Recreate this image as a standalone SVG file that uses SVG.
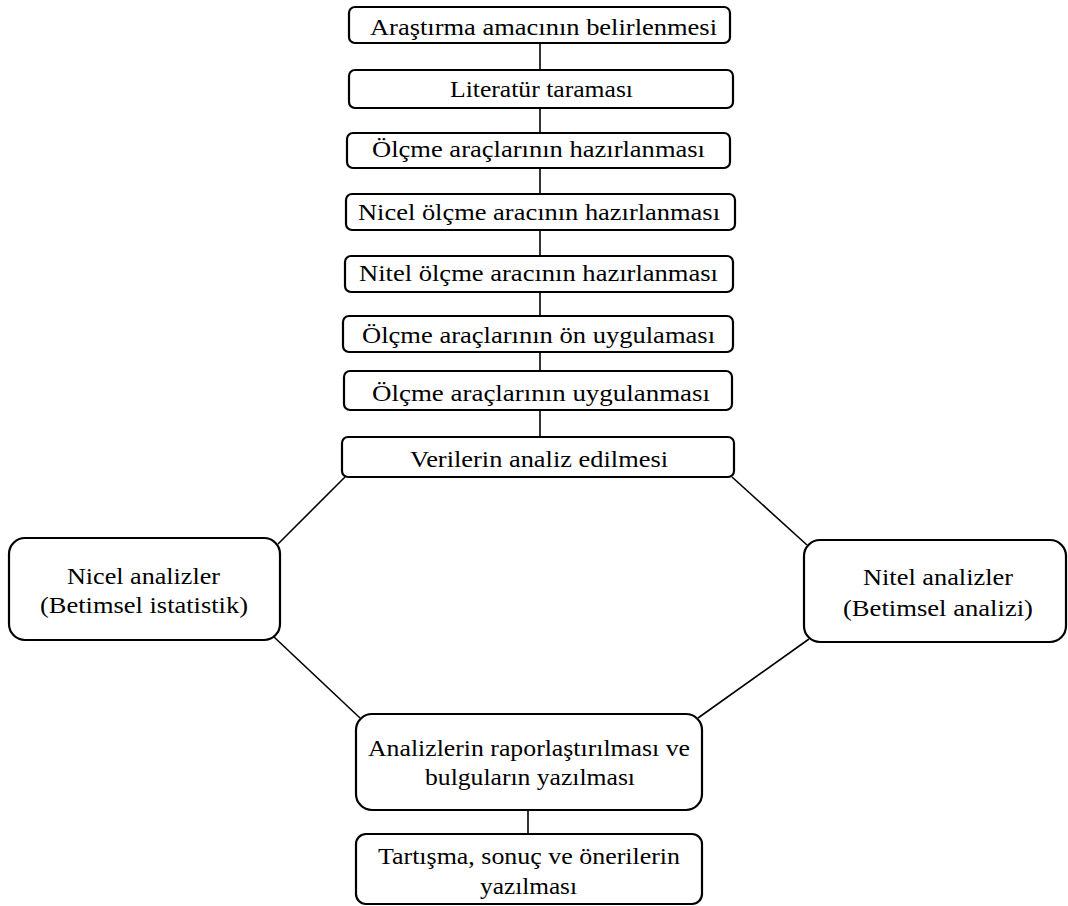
<svg xmlns="http://www.w3.org/2000/svg" width="1068" height="906" viewBox="0 0 1068 906">
  <style>
    .box { fill: #ffffff; stroke: #000000; stroke-width: 2.2; }
    .link { stroke: #000000; stroke-width: 1.6; fill: none; }
    text { font-family: "Liberation Serif", "Times New Roman", serif; font-size: 24px; fill: #000000; text-anchor: middle; }
  </style>
  <rect width="1068" height="906" fill="#ffffff"/>

  <!-- connectors -->
  <g id="connectors">
    <line class="link" x1="540" y1="43" x2="540" y2="70"/>
    <line class="link" x1="540" y1="108" x2="540" y2="133"/>
    <line class="link" x1="540" y1="168" x2="540" y2="194"/>
    <line class="link" x1="540" y1="230" x2="540" y2="256"/>
    <line class="link" x1="540" y1="292" x2="540" y2="316"/>
    <line class="link" x1="540" y1="352" x2="540" y2="371"/>
    <line class="link" x1="540" y1="410" x2="540" y2="437"/>
    <line class="link" x1="345" y1="477" x2="278" y2="544"/>
    <line class="link" x1="732" y1="477" x2="807" y2="545"/>
    <line class="link" x1="274" y1="637" x2="360" y2="718"/>
    <line class="link" x1="809" y1="639" x2="698" y2="718"/>
    <line class="link" x1="528" y1="810" x2="528" y2="834"/>
  </g>

  <g id="n1">
    <rect class="box" x="349" y="7" width="381" height="36" rx="6"/>
    <text x="543.5" y="35" textLength="347" lengthAdjust="spacingAndGlyphs">Araştırma amacının belirlenmesi</text>
  </g>
  <g id="n2">
    <rect class="box" x="349" y="70" width="384" height="38" rx="6"/>
    <text x="541.5" y="97" textLength="183" lengthAdjust="spacingAndGlyphs">Literatür taraması</text>
  </g>
  <g id="n3">
    <rect class="box" x="347" y="133" width="383" height="35" rx="6"/>
    <text x="538.5" y="157" textLength="333" lengthAdjust="spacingAndGlyphs">Ölçme araçlarının hazırlanması</text>
  </g>
  <g id="n4">
    <rect class="box" x="346" y="194" width="389" height="36" rx="6"/>
    <text x="539" y="220" textLength="362" lengthAdjust="spacingAndGlyphs">Nicel ölçme aracının hazırlanması</text>
  </g>
  <g id="n5">
    <rect class="box" x="345" y="256" width="388" height="36" rx="6"/>
    <text x="538.5" y="281" textLength="359" lengthAdjust="spacingAndGlyphs">Nitel ölçme aracının hazırlanması</text>
  </g>
  <g id="n6">
    <rect class="box" x="343" y="316" width="390" height="36" rx="6"/>
    <text x="538.5" y="343" textLength="353" lengthAdjust="spacingAndGlyphs">Ölçme araçlarının ön uygulaması</text>
  </g>
  <g id="n7">
    <rect class="box" x="344" y="371" width="388" height="39" rx="6"/>
    <text x="541" y="401" textLength="338" lengthAdjust="spacingAndGlyphs">Ölçme araçlarının uygulanması</text>
  </g>
  <g id="n8">
    <rect class="box" x="342" y="437" width="392" height="40" rx="6"/>
    <text x="539" y="467" textLength="258" lengthAdjust="spacingAndGlyphs">Verilerin analiz edilmesi</text>
  </g>
  <g id="n9">
    <rect class="box" x="9" y="538" width="271" height="102" rx="16"/>
    <text x="143.5" y="584" textLength="153" lengthAdjust="spacingAndGlyphs">Nicel analizler</text>
    <text x="144" y="613" textLength="208" lengthAdjust="spacingAndGlyphs">(Betimsel istatistik)</text>
  </g>
  <g id="n10">
    <rect class="box" x="804" y="540" width="262" height="102" rx="16"/>
    <text x="938" y="585" textLength="150" lengthAdjust="spacingAndGlyphs">Nitel analizler</text>
    <text x="938" y="616" textLength="190" lengthAdjust="spacingAndGlyphs">(Betimsel analizi)</text>
  </g>
  <g id="n11">
    <rect class="box" x="356" y="714" width="346" height="96" rx="16"/>
    <text x="529" y="756" textLength="322" lengthAdjust="spacingAndGlyphs">Analizlerin raporlaştırılması ve</text>
    <text x="530" y="785" textLength="210" lengthAdjust="spacingAndGlyphs">bulguların yazılması</text>
  </g>
  <g id="n12">
    <rect class="box" x="356" y="834" width="346" height="70" rx="10"/>
    <text x="529" y="864" textLength="302" lengthAdjust="spacingAndGlyphs">Tartışma, sonuç ve önerilerin</text>
    <text x="528.5" y="894" textLength="97" lengthAdjust="spacingAndGlyphs">yazılması</text>
  </g>
</svg>
